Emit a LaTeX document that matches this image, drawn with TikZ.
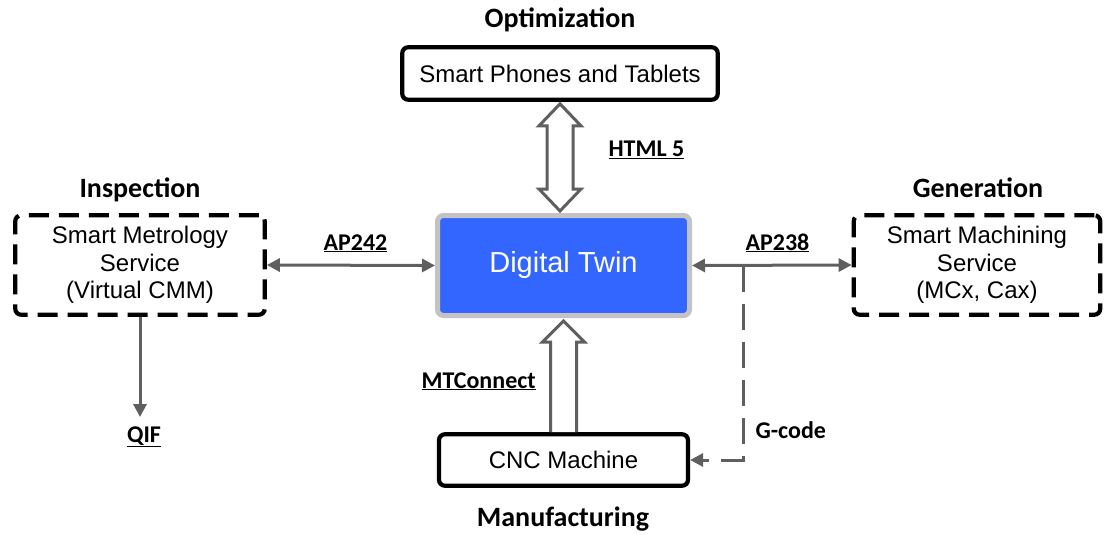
\documentclass[tikz,border=0pt]{standalone}
\usepackage{fontspec}
\setmainfont{Liberation Sans}
\newfontfamily\calibri{Carlito}
\usepackage{tikz}
\usepgflibrary{arrows.meta}
\usetikzlibrary{calc}
\definecolor{twinblue}{HTML}{3366FF}
\definecolor{twinframe}{HTML}{C3C3C3}
\definecolor{linkgray}{HTML}{5F5F5F}

\begin{document}
\begin{tikzpicture}[x=1pt, y=-1pt,
    >={Triangle[length=13pt,width=13pt]},
    box/.style={draw=black, line width=4.2pt, rounded corners=6pt, align=center,
        font=\fontsize{24}{27.5}\selectfont},
    dashbox/.style={box, dash pattern=on 20pt off 10pt},
    twinbox/.style={draw=twinframe, fill=twinblue, line width=5pt, rounded corners=6pt,
        text=white, font=\fontsize{29}{32}\selectfont},
    group/.style={font=\fontsize{28}{30}\selectfont\calibri\bfseries},
    proto/.style={font=\fontsize{24}{26}\selectfont\calibri\bfseries, anchor=base west},
    link/.style={draw=linkgray, line width=3pt},
    fatarrow/.style={draw=linkgray, line width=3pt, fill=white, line join=miter}]
    \useasboundingbox (0,0) rectangle (1104,535);
    % boxes
    \node[box, minimum width=315.5pt, minimum height=52.5pt] (phones) at (560,73.5) {Smart Phones and Tablets};
    \node[dashbox, minimum width=249.5pt, minimum height=99.5pt] (metro) at (140,265) {Smart Metrology\\Service\\(Virtual CMM)};
    \node[dashbox, minimum width=246.5pt, minimum height=99.5pt] (mach) at (977,265) {Smart Machining\\Service\\(MCx, Cax)};
    \node[twinbox, minimum width=252pt, minimum height=100pt] (twin) at (563.5,265.5) {Digital Twin};
    \node[box, minimum width=249pt, minimum height=51.5pt] (cnc) at (563.5,460) {CNC Machine};
    % group titles
    \foreach \pos/\name/\txt in {(560,28)/optim/Optimization, (140,197)/insp/Inspection,
        (978,197)/gen/Generation, (563,526)/manu/Manufacturing}{
    \node[group, anchor=base] (\name) at \pos {\txt};
    }
    % protocols
    \node[proto] (html) at (605,157) {\underline{HTML 5}};
    \node[proto] (ap242) at (320,250) {\underline{AP242}};
    \node[proto] (ap238) at (742,250) {\underline{AP238}};
    \node[proto] (mtc) at (418,388) {\underline{MTConnect}};
    \node[proto, anchor=base] (qif) at (144,442) {\underline{QIF}};
    \node[proto] (gcode) at (752,438) {G-code};
    % connectors
    \draw[link, <->] (metro.east) -- (twin.west);
    \draw[link, <->] (twin.east) -- (mach.west);
    \coordinate (qifend) at (140,417);
    \draw[link, ->] (metro.south) -- (qifend);
    \coordinate (tap) at (743,266);
    \draw[link, ->, dash pattern=on 26pt off 12pt] (tap) |- (cnc.east);
    \draw[fatarrow] let \p1=(phones.south), \p2=(twin.north) in
        (\x1,\y1-2pt) -- (\x1+21pt,\y1-24pt) -- (\x1+13pt,\y1-24pt) -- (\x1+13pt,\y2+24pt)
        -- (\x1+21pt,\y2+24pt) -- (\x1,\y2+2pt) -- (\x1-21pt,\y2+24pt) -- (\x1-13pt,\y2+24pt)
        -- (\x1-13pt,\y1-24pt) -- (\x1-21pt,\y1-24pt) -- cycle;
    \draw[fatarrow] let \p1=(cnc.north), \p2=(twin.south) in
        (\x1-13pt,\y1) -- (\x1-13pt,\y2-24pt) -- (\x1-21pt,\y2-24pt) -- (\x1,\y2-3pt)
        -- (\x1+21pt,\y2-24pt) -- (\x1+13pt,\y2-24pt) -- (\x1+13pt,\y1);
\end{tikzpicture}
\end{document}
